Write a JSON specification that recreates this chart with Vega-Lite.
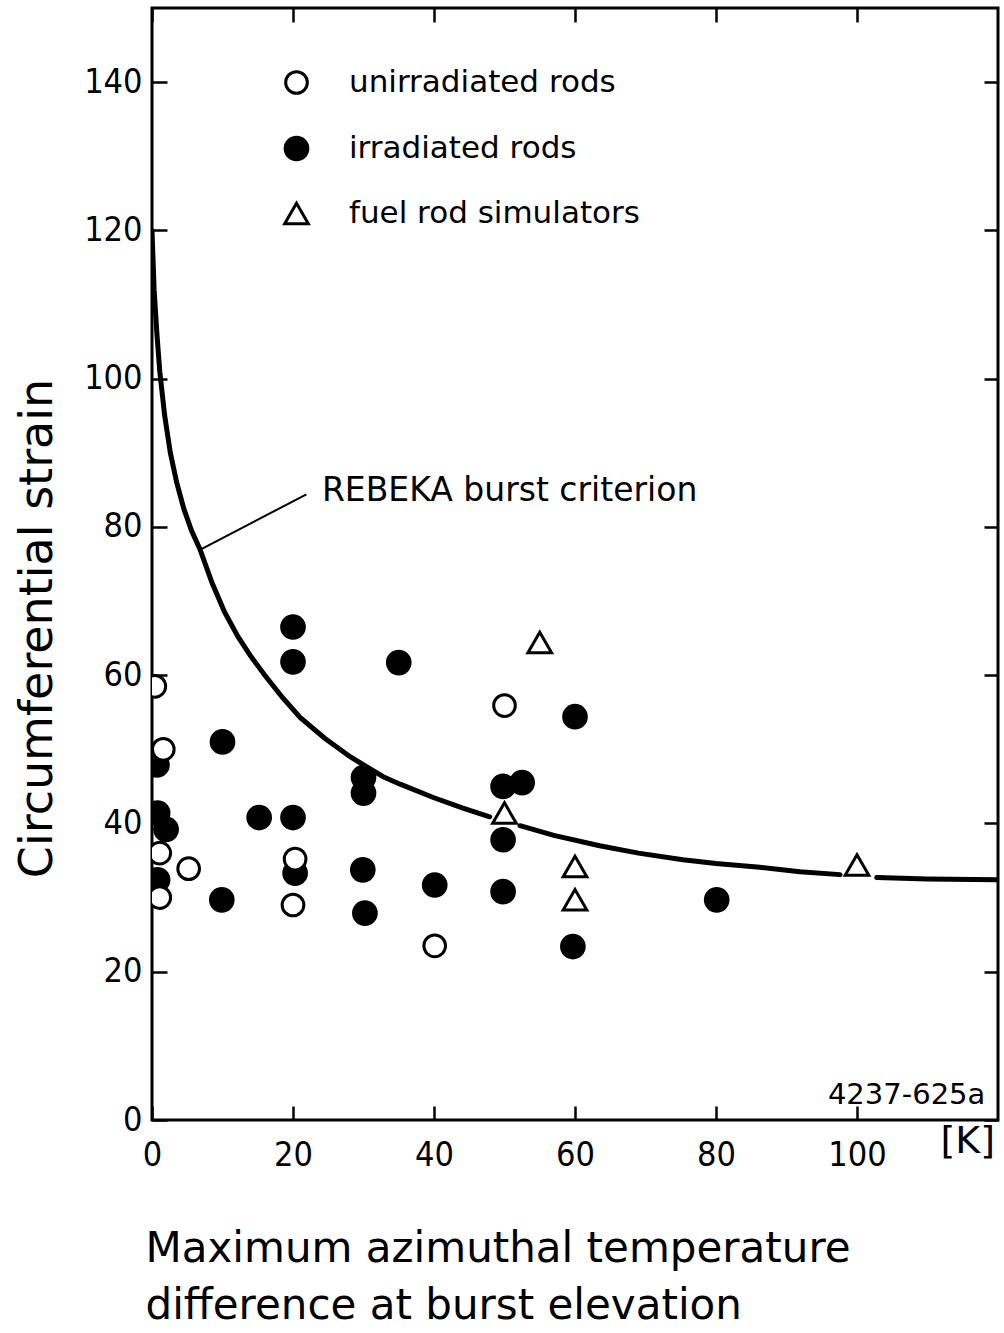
{
  "$schema": "https://vega.github.io/schema/vega-lite/v6.json",
  "width": 846,
  "height": 1112,
  "autosize": "none",
  "padding": {"left": 152, "top": 8, "right": 6, "bottom": 213},
  "background": "white",
  "config": {
    "view": {"stroke": "black", "strokeWidth": 3},
    "axis": {
      "grid": false,
      "domain": false,
      "tickColor": "black",
      "tickWidth": 2.5,
      "labelColor": "black",
      "labelFont": "Liberation Sans Narrow, DejaVu Sans Condensed, Liberation Sans, sans-serif",
      "labelFontSize": 34,
      "labelFlush": false,
      "titleColor": "black",
      "titleFont": "DejaVu Sans",
      "titleFontWeight": "normal"
    }
  },
  "datasets": {
    "curve": [
      {"x": 0, "y": 120, "seg": 1}, {"x": 0.3, "y": 112, "seg": 1}, {"x": 0.7, "y": 106, "seg": 1},
      {"x": 1.1, "y": 101, "seg": 1}, {"x": 1.8, "y": 95, "seg": 1}, {"x": 2.6, "y": 90, "seg": 1},
      {"x": 3.5, "y": 86, "seg": 1}, {"x": 4.5, "y": 82.5, "seg": 1}, {"x": 5.6, "y": 79.5, "seg": 1},
      {"x": 6.8, "y": 77, "seg": 1}, {"x": 8.5, "y": 72.5, "seg": 1}, {"x": 10.3, "y": 68.5, "seg": 1},
      {"x": 12.2, "y": 65.2, "seg": 1}, {"x": 13.9, "y": 62.7, "seg": 1}, {"x": 16, "y": 60, "seg": 1},
      {"x": 18.5, "y": 57, "seg": 1}, {"x": 21, "y": 54.3, "seg": 1}, {"x": 24.5, "y": 51.5, "seg": 1},
      {"x": 28.1, "y": 49, "seg": 1}, {"x": 32.8, "y": 46.3, "seg": 1}, {"x": 35.2, "y": 45.3, "seg": 1},
      {"x": 39.9, "y": 43.5, "seg": 1}, {"x": 44, "y": 42.1, "seg": 1}, {"x": 47.9, "y": 40.9, "seg": 1},
      {"x": 52.2, "y": 39.7, "seg": 2}, {"x": 57, "y": 38.4, "seg": 2}, {"x": 63.5, "y": 37, "seg": 2},
      {"x": 69, "y": 36, "seg": 2}, {"x": 75.3, "y": 35.1, "seg": 2}, {"x": 80, "y": 34.6, "seg": 2},
      {"x": 86.2, "y": 34.1, "seg": 2}, {"x": 91.9, "y": 33.5, "seg": 2}, {"x": 97.6, "y": 33.1, "seg": 2},
      {"x": 102.8, "y": 32.7, "seg": 3}, {"x": 110, "y": 32.5, "seg": 3}, {"x": 120, "y": 32.4, "seg": 3}
    ],
    "points": [
      {"x": 20, "y": 66.5, "type": "irradiated rods"},
      {"x": 20, "y": 61.8, "type": "irradiated rods"},
      {"x": 35, "y": 61.7, "type": "irradiated rods"},
      {"x": 10, "y": 51, "type": "irradiated rods"},
      {"x": 0.7, "y": 47.9, "type": "irradiated rods"},
      {"x": 30, "y": 46.2, "type": "irradiated rods"},
      {"x": 30, "y": 44.1, "type": "irradiated rods"},
      {"x": 0.8, "y": 41.4, "type": "irradiated rods"},
      {"x": 2, "y": 39.2, "type": "irradiated rods"},
      {"x": 15.2, "y": 40.8, "type": "irradiated rods"},
      {"x": 20, "y": 40.8, "type": "irradiated rods"},
      {"x": 20.3, "y": 33.3, "type": "irradiated rods"},
      {"x": 0.8, "y": 32.4, "type": "irradiated rods"},
      {"x": 9.9, "y": 29.7, "type": "irradiated rods"},
      {"x": 29.9, "y": 33.75, "type": "irradiated rods"},
      {"x": 30.2, "y": 27.9, "type": "irradiated rods"},
      {"x": 40.1, "y": 31.7, "type": "irradiated rods"},
      {"x": 49.8, "y": 45, "type": "irradiated rods"},
      {"x": 52.5, "y": 45.5, "type": "irradiated rods"},
      {"x": 49.8, "y": 37.8, "type": "irradiated rods"},
      {"x": 49.8, "y": 30.8, "type": "irradiated rods"},
      {"x": 60, "y": 54.4, "type": "irradiated rods"},
      {"x": 59.7, "y": 23.4, "type": "irradiated rods"},
      {"x": 80.1, "y": 29.7, "type": "irradiated rods"},
      {"x": 0.4, "y": 58.5, "type": "unirradiated rods"},
      {"x": 1.6, "y": 50, "type": "unirradiated rods"},
      {"x": 1.1, "y": 36, "type": "unirradiated rods"},
      {"x": 5.2, "y": 33.9, "type": "unirradiated rods"},
      {"x": 1.1, "y": 30, "type": "unirradiated rods"},
      {"x": 20.3, "y": 35.2, "type": "unirradiated rods"},
      {"x": 20, "y": 29, "type": "unirradiated rods"},
      {"x": 50, "y": 55.9, "type": "unirradiated rods"},
      {"x": 40.1, "y": 23.5, "type": "unirradiated rods"},
      {"x": 55, "y": 64.4, "type": "fuel rod simulators"},
      {"x": 50, "y": 41.4, "type": "fuel rod simulators"},
      {"x": 60, "y": 34.2, "type": "fuel rod simulators"},
      {"x": 60, "y": 29.7, "type": "fuel rod simulators"},
      {"x": 100, "y": 34.4, "type": "fuel rod simulators"}
    ]
  },
  "layer": [
    {
      "data": {"name": "curve"},
      "mark": {"type": "line", "stroke": "black", "strokeWidth": 5, "strokeCap": "round", "clip": true},
      "encoding": {
        "x": {
          "field": "x", "type": "quantitative",
          "scale": {"domain": [0, 120], "nice": false, "zero": false},
          "axis": {
            "orient": "bottom", "values": [0, 20, 40, 60, 80, 100],
            "tickSize": -14, "labelPadding": 32,
            "title": ["Maximum azimuthal temperature", "difference at burst elevation"],
            "titleFontSize": 42, "titleAnchor": "start", "titleAlign": "left",
            "titleX": -7, "titleY": 108, "titleBaseline": "top", "titleLineHeight": 57
          }
        },
        "y": {
          "field": "y", "type": "quantitative",
          "scale": {"domain": [0, 150], "nice": false, "zero": false},
          "axis": {
            "orient": "left", "values": [0, 20, 40, 60, 80, 100, 120, 140],
            "tickSize": -15, "labelPadding": 25,
            "title": "Circumferential strain", "titleFontSize": 46, "titleAngle": -90,
            "titleX": -115, "titleY": 620, "titleAlign": "center", "titleBaseline": "middle"
          }
        },
        "detail": {"field": "seg", "type": "nominal"}
      }
    },
    {
      "data": {"name": "points"},
      "mark": {"type": "point", "filled": true, "stroke": "black", "strokeWidth": 3, "opacity": 1, "clip": true},
      "encoding": {
        "x": {
          "field": "x", "type": "quantitative",
          "scale": {"domain": [0, 120], "nice": false, "zero": false},
          "axis": {"orient": "top", "values": [0, 20, 40, 60, 80, 100], "labels": false, "tickSize": -14, "title": null}
        },
        "y": {
          "field": "y", "type": "quantitative",
          "scale": {"domain": [0, 150], "nice": false, "zero": false},
          "axis": {"orient": "right", "values": [0, 20, 40, 60, 80, 100, 120, 140], "labels": false, "tickSize": -14, "title": null}
        },
        "fill": {
          "field": "type", "type": "nominal",
          "scale": {"domain": ["unirradiated rods", "irradiated rods", "fuel rod simulators"], "range": ["white", "black", "white"]},
          "legend": {
            "orient": "none", "legendX": 129, "legendY": 59, "title": null, "padding": 0,
            "labelFont": "DejaVu Sans", "labelFontSize": 31, "labelColor": "black", "labelLimit": 0,
            "rowPadding": 31, "labelOffset": 37,
            "symbolStrokeColor": "black", "symbolStrokeWidth": 3, "symbolOpacity": 1
          }
        },
        "shape": {
          "field": "type", "type": "nominal",
          "scale": {"domain": ["unirradiated rods", "irradiated rods", "fuel rod simulators"], "range": ["circle", "circle", "triangle-up"]}
        },
        "size": {
          "field": "type", "type": "nominal",
          "scale": {"domain": ["unirradiated rods", "irradiated rods", "fuel rod simulators"], "range": [470, 560, 640]}
        }
      }
    },
    {
      "data": {"values": [{"x": 7.0, "y": 77, "x2": 21.9, "y2": 84.4}]},
      "mark": {"type": "rule", "stroke": "black", "strokeWidth": 2},
      "encoding": {
        "x": {"field": "x", "type": "quantitative", "axis": null},
        "y": {"field": "y", "type": "quantitative", "axis": null},
        "x2": {"field": "x2"},
        "y2": {"field": "y2"}
      }
    },
    {
      "data": {"values": [{"x": 24.1, "y": 84.8, "label": "REBEKA burst criterion"}]},
      "mark": {"type": "text", "align": "left", "baseline": "middle", "font": "DejaVu Sans", "fontSize": 33, "fill": "black"},
      "encoding": {
        "x": {"field": "x", "type": "quantitative", "axis": null},
        "y": {"field": "y", "type": "quantitative", "axis": null},
        "text": {"field": "label"}
      }
    },
    {
      "data": {"values": [{"x": 118.2, "y": 3.4, "label": "4237-625a"}]},
      "mark": {"type": "text", "align": "right", "baseline": "middle", "font": "DejaVu Sans", "fontSize": 29, "fill": "black"},
      "encoding": {
        "x": {"field": "x", "type": "quantitative", "axis": null},
        "y": {"field": "y", "type": "quantitative", "axis": null},
        "text": {"field": "label"}
      }
    },
    {
      "data": {"values": [{"x": 115.7, "y": -3, "label": "[K]"}]},
      "mark": {"type": "text", "align": "center", "baseline": "middle", "font": "DejaVu Sans", "fontSize": 38, "fill": "black"},
      "encoding": {
        "x": {"field": "x", "type": "quantitative", "axis": null},
        "y": {"field": "y", "type": "quantitative", "axis": null},
        "text": {"field": "label"}
      }
    }
  ],
  "resolve": {"axis": {"x": "independent", "y": "independent"}}
}
